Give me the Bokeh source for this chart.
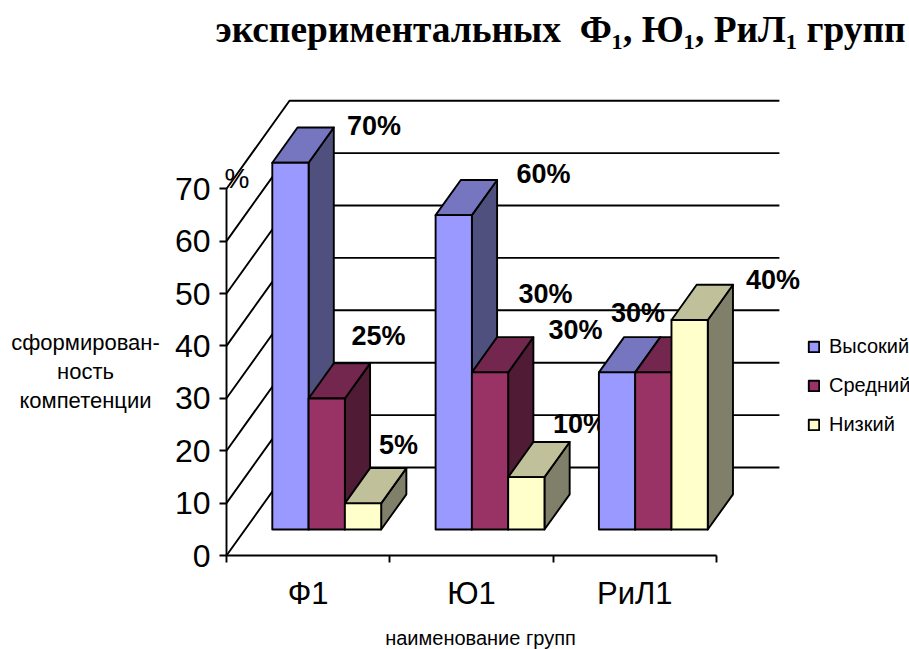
from bokeh.plotting import figure
from bokeh.models import FixedTicker, Legend, LegendItem, LinearAxis, Range1d
from bokeh.core.properties import value
from bokeh.embed import file_html
from bokeh.resources import INLINE

categories = ["Ф1", "Ю1", "РиЛ1"]
series_names = ["Высокий", "Средний", "Низкий"]
high = [70, 60, 30]
middle = [25, 30, 30]
low = [5, 10, 40]
ticks = [0, 10, 20, 30, 40, 50, 60, 70]
title_text = "экспериментальных\u00a0\u00a0Ф₁, Ю₁, РиЛ₁ групп"
y_title = ["сформирован-", "ность", "компетенции"]
x_title = "наименование групп"
y_unit = "%"

front_colors = ["#9999FF", "#993366", "#FFFFCC"]
top_colors = ["#7575C0", "#74274E", "#C0C09B"]
side_colors = ["#50507F", "#4F1B35", "#80806A"]

W, H = 909, 649
PAD = 0
X0, Y0 = 226.0, 555.0
PX_PER_CAT, PX_PER_VAL = 163.3, 5.24
DX, DY = 63 / PX_PER_CAT, 88 / PX_PER_VAL
GAP, BAR = 1 / 6, 2 / 9
Z0, Z1 = 0.295, 0.695


def dx(px):
    return (px - X0) / PX_PER_CAT


def dy(py):
    return (Y0 - py) / PX_PER_VAL


p = figure(width=W, height=H, output_backend="svg", toolbar_location=None,
           x_range=Range1d(dx(PAD), dx(PAD + W)), y_range=Range1d(dy(PAD + H), dy(PAD)),
           min_border=0, x_axis_location=None, y_axis_location=None, tools="")
p.outline_line_color = None
p.grid.visible = False
p.background_fill_color = "white"

# Walls: one line per tick from the front axis over the side wall and along the back wall
p.multi_line(xs=[[0, DX, len(categories) + DX] for _ in ticks],
             ys=[[t, t + DY, t + DY] for t in ticks], line_color="black", line_width=1.9)

yaxis = LinearAxis(ticker=FixedTicker(ticks=ticks), fixed_location=0, bounds=(0, 70))
yaxis.axis_line_color = "black"
yaxis.axis_line_width = 1.9
yaxis.major_tick_line_width = 1.9
yaxis.major_tick_in = 0
yaxis.major_tick_out = 7
yaxis.minor_tick_line_color = None
yaxis.major_label_standoff = 9
yaxis.major_label_text_font = "Liberation Sans"
yaxis.major_label_text_font_size = "32px"
yaxis.major_label_text_color = "black"
p.add_layout(yaxis, "left")

xaxis = LinearAxis(ticker=FixedTicker(ticks=list(range(len(categories) + 1))), fixed_location=0,
                   bounds=(0, len(categories)),
                   major_label_overrides={i: "" for i in range(len(categories) + 1)})
xaxis.axis_line_color = "black"
xaxis.axis_line_width = 2
xaxis.major_tick_line_width = 1.9
xaxis.major_tick_in = 0
xaxis.major_tick_out = 7
xaxis.minor_tick_line_color = None
p.add_layout(xaxis, "below")

xlabels = LinearAxis(ticker=FixedTicker(ticks=[i + 0.5 for i in range(len(categories))]),
                     fixed_location=0,
                     major_label_overrides={i + 0.5: c for i, c in enumerate(categories)})
xlabels.axis_line_color = None
xlabels.major_tick_line_color = None
xlabels.minor_tick_line_color = None
xlabels.major_tick_in = 0
xlabels.major_tick_out = 0
xlabels.major_label_standoff = 20
xlabels.major_label_text_font = "Liberation Sans"
xlabels.major_label_text_font_size = "31px"
xlabels.major_label_text_color = "black"
p.add_layout(xlabels, "below")

FONT = value("Liberation Sans")
LABEL = dict(text_font=FONT, text_font_style="bold", text_font_size="27px", text_color="black",
             text_align="center", text_baseline="middle")
# label centres in page pixels, series by group
label_px = [[(373.5, 125), (543, 173), (575, 329)],
            [(378, 335), (545, 293), (637.5, 312)],
            [(398, 444), (579.5, 423), (772.5, 279)]]
all_series = [high, middle, low]

# The 10% label sits behind the next group's bars
p.text(x=[dx(label_px[2][1][0])], y=[dy(label_px[2][1][1])], text=[f"{low[1]}%"], **LABEL)

fronts = []
for s, vals in enumerate(all_series):
    left = [i + GAP + s * BAR for i in range(len(categories))]
    right = [l + BAR for l in left]
    side_x = [[r + Z0 * DX, r + Z1 * DX, r + Z1 * DX, r + Z0 * DX] for r in right]
    side_y = [[Z0 * DY, Z1 * DY, v + Z1 * DY, v + Z0 * DY] for v in vals]
    top_x = [[l + Z0 * DX, l + Z1 * DX, r + Z1 * DX, r + Z0 * DX] for l, r in zip(left, right)]
    top_y = [[v + Z0 * DY, v + Z1 * DY, v + Z1 * DY, v + Z0 * DY] for v in vals]
    front_x = [[l + Z0 * DX, r + Z0 * DX, r + Z0 * DX, l + Z0 * DX] for l, r in zip(left, right)]
    front_y = [[Z0 * DY, Z0 * DY, v + Z0 * DY, v + Z0 * DY] for v in vals]
    outline = dict(line_color="black", line_width=1.9, line_join="round")
    p.patches(side_x, side_y, fill_color=side_colors[s], **outline)
    p.patches(top_x, top_y, fill_color=top_colors[s], **outline)
    fronts.append(p.patches(front_x, front_y, fill_color=front_colors[s], **outline))

xs, ys, texts = [], [], []
for s, vals in enumerate(all_series):
    for g, v in enumerate(vals):
        if (s, g) == (2, 1):
            continue
        xs.append(dx(label_px[s][g][0]))
        ys.append(dy(label_px[s][g][1]))
        texts.append(f"{v}%")
p.text(x=xs, y=ys, text=texts, **LABEL)

p.text(x=[dx(236.5)], y=[dy(178)], text=[y_unit], text_font=FONT, text_font_size="28px",
       text_align="center", text_baseline="middle", text_color="black")
p.text(x=[dx(85)] * 3, y=[dy(342), dy(371), dy(400)], text=y_title, text_font=FONT,
       text_font_size="22px", text_align="center", text_baseline="middle", text_color="black")
p.text(x=[dx(480)], y=[dy(637)], text=[x_title], text_font=FONT, text_font_size="20px",
       text_align="center", text_baseline="middle", text_color="black")
p.text(x=[dx(215)], y=[dy(29)], text=[title_text], text_font=value("Liberation Serif"),
       text_font_style="bold", text_font_size="37.4px", text_align="left",
       text_baseline="alphabetic", text_color="black")

legend = Legend(items=[LegendItem(label=n, renderers=[r]) for n, r in zip(series_names, fronts)],
                location=(807, 213), orientation="vertical")
legend.background_fill_alpha = 0
legend.border_line_color = None
legend.margin = 0
legend.padding = 5
legend.glyph_width = 13
legend.glyph_height = 13
legend.label_height = 20
legend.spacing = 16
legend.label_standoff = 9
legend.label_text_font = "Liberation Sans"
legend.label_text_font_size = "20px"
legend.label_text_color = "black"
p.add_layout(legend)

open("out.html", "w").write(file_html(p, INLINE))
